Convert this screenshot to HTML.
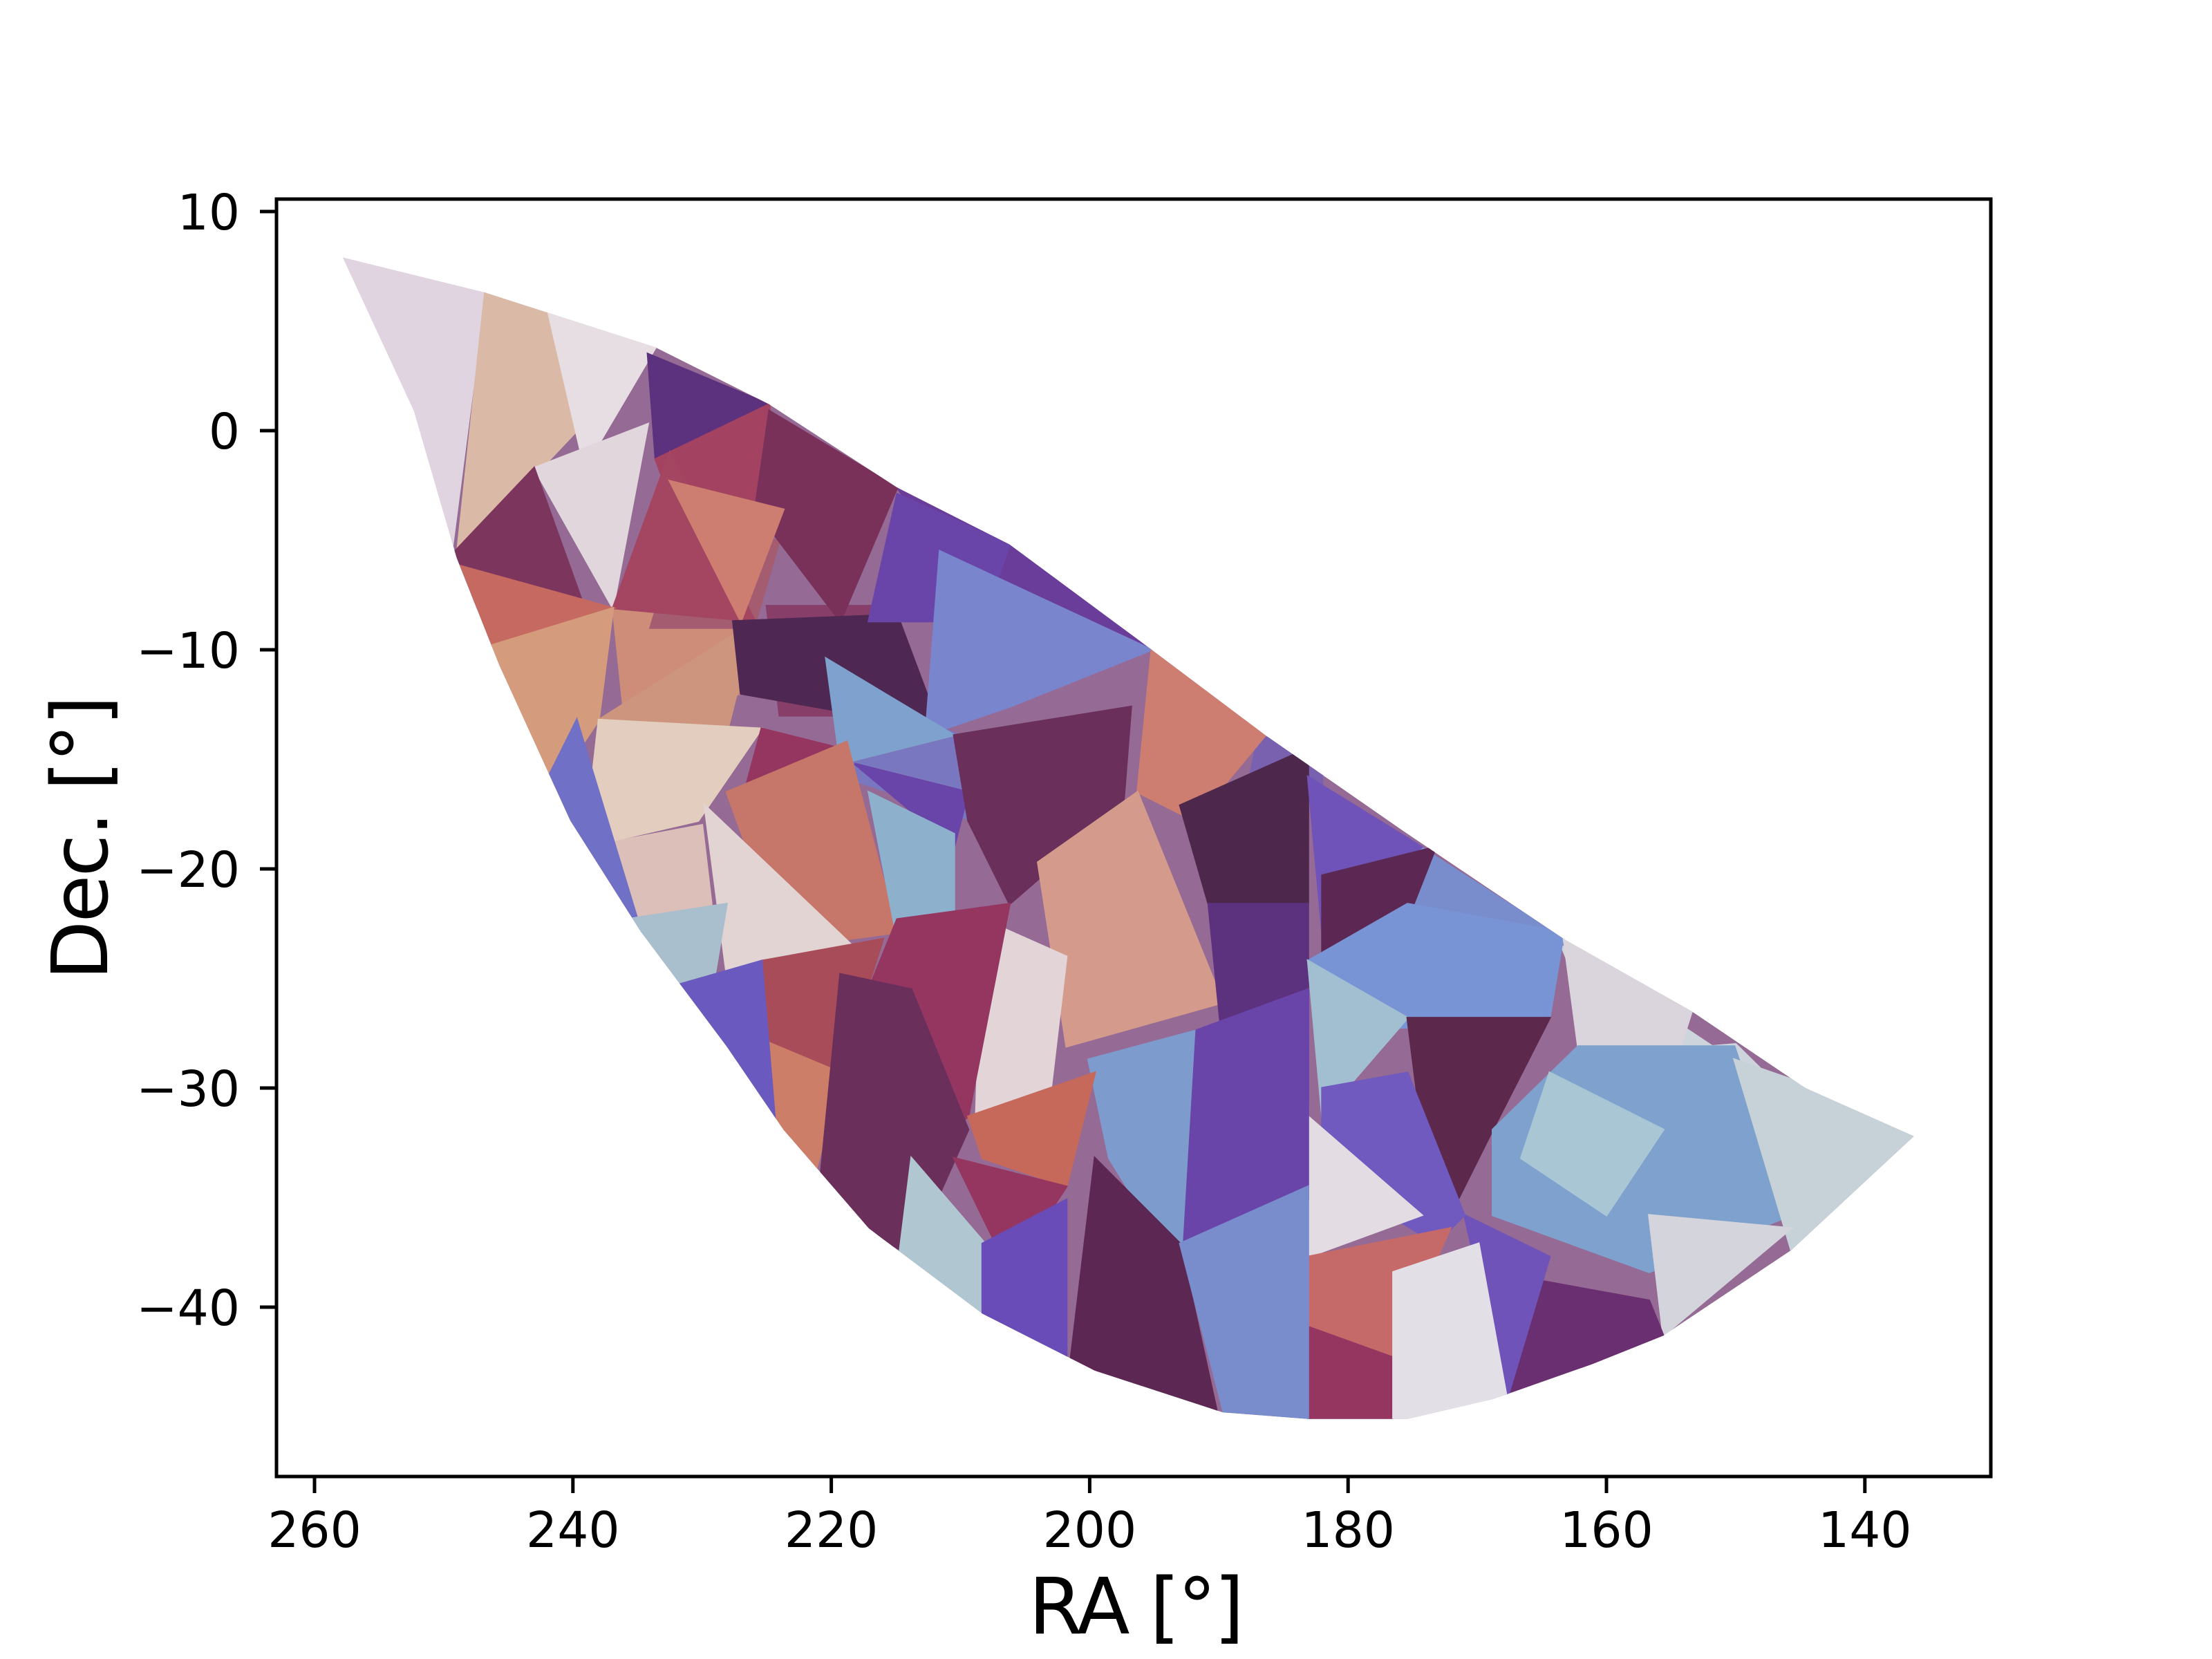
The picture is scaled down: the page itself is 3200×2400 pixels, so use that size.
<!DOCTYPE html>
<html><head><meta charset="utf-8"><style>
html,body{margin:0;padding:0;background:#fff;}
svg{display:block;}
text{font-family:"DejaVu Sans","Liberation Sans",sans-serif;fill:#000;}
</style></head><body>
<svg id="chart" width="3200" height="2400" viewBox="0 0 3200 2400" xmlns="http://www.w3.org/2000/svg">
<defs><clipPath id="wedgeClip"><polygon id="wedgeClipPoly"/></clipPath></defs>
<rect x="0" y="0" width="3200" height="2400" fill="#fff"/>
<g id="plot"></g>
<g id="axes"></g>
</svg>
<script>
// ---- data ----
const xTicks = [260, 240, 220, 200, 180, 160, 140];
const yTicks = [10, 0, -10, -20, -30, -40];
const xLim = [263.6, 130.0];
const yLim = [10.57, -47.7];
// footprint boundary (RA, Dec)
const edgeRA  = [257.8,246.8,233.6,224.8,214.9,206.2,195.2,186.4,175.4,163.3,153.4,144.6,136.2,145.7,155.6,161.1,168.8,175.4,183.1,189.7,199.6,208.3,217.1,223.7,228.1,234.7,240.2,245.7,249.0,252.3];
const edgeDec = [7.9,6.3,3.8,1.2,-2.6,-5.2,-10.0,-13.9,-18.4,-23.2,-26.5,-30.0,-32.2,-37.4,-41.3,-42.6,-44.2,-45.1,-45.1,-44.8,-42.9,-40.3,-36.4,-31.9,-28.1,-22.9,-17.8,-10.7,-5.8,0.9];
// patch colours
const patchColors = ["#5a2890","#c8806a","#d8b8b0","#6a68b8","#6a80c8","#c8d0d8","#7a2a5a","#9a4a60","#6a50a8",
"#dcd0dc","#d6b29c","#e4dbe0","#ddd2d8","#6e1f4a","#4a1a70","#9a2e50","#6a1a48","#9a3050","#c05a50","#d0906f","#c98a70","#c87060","#3a1040","#5a30a0","#6a78c8","#7098c8","#e0c8b8","#6060c0","#8a2050","#c06858","#e0d0d0","#5a30a0","#80a8c8","#5a1848","#c87060","#d09080","#e0d0d4","#3a1038","#6040b0","#4a1040","#4a1a70","#6a88d0","#98b8cc","#d6d0d8","#4a1038","#7098c8","#a0c0d0","#c0ccd4","#d0d0d8","#5a1860","#6040b0","#6048b8","#e0d8e0","#c05a58","#8a2050","#e0dce4","#5a30a0","#7090c8","#8a2050","#a03848","#c87058","#5a1848","#c05848","#8a2050","#a8c0cc","#5a38b0","#4a1040","#6a80c8","#a0b8c8","#5a48b8"];
const patchRA = [
[214.9,206.2,195.2,208.3],[236.9,225.9,227,236],[239,230,229,235.8],[219,210,209,218],[176,163.3,170,176],[163.5,145.7,150,160],[225,214.9,216,224],[232,224,226,234],[187,182,182,188],
[260,246.8,249.6,252],[246.8,233.6,249.0],[241.9,233.6,239.1],[243,234.2,236.9],[249.6,243,239.1,246.8],
[234.2,224.8,233.6],[233.6,224.8,224.3,231.4],[224.8,214.9,219.3,225.9],[236.9,232.5,225.9],[251,236.9,247.4],
[247.4,236.9,238,242.4],[238,225.9,228.7],[232.5,223.7,227],[227.6,214.9,211.6,227],[214.9,206.2,208.3,217.1],
[211.6,195.2,206.2,212.7],[220.4,210.5,219.3],[238,225.4,230.3,239.1],[239.7,234.7,239.1,243],[225.4,219.3,227],
[228.1,218.8,214.9,223.7],[229.8,218.2,228.1],[218.2,209.4,210.5],[217.1,210.5,210.5,214.9],[210.5,196.8,197.4,206.2,209.4],
[195.2,186.4,191.9,196.3],[204,196.3,189.7,201.8],[208.3,201.8,203,208.8],[193,183.1,183.1,190.8],[183.1,174.3,182],
[182,173.2,175.4,182],[190.8,183.1,183.1,189.7],[183.1,175.4,163.3,164.4,179.8],[183.1,175.4,182],[163.3,153.4,155.6,162.2],
[175.4,164.4,168.8,173.2],[162.2,150.1,145.7,156.7,168.8,168.8],[164.4,155.6,160,166.6],[150.1,134,145.7],[156.7,145.7,155.6],
[168.8,156.7,155.6,167.7],[171,164.4,167.7],[182,175.4,171,173.2,182],[183.1,174.3,183.1],[183.1,172.1,176.5,183.1],
[183.1,176.5,176.5,183.1],[176.5,169.9,167.7,176.5],[191.9,183.1,183.1,193],[200.1,191.9,193,198.5],[214.9,206.2,209.4,213.8,217.1],
[225.4,216,219.3,224.8],[227,219.3,221.5,224.8],[219.3,213.8,209.4,213.8,221],[209.4,199.6,201.8,208.3],[210.5,201.8,206.2],
[213.8,206.2,208.3,214.9],[208.3,201.8,201.8,208.3],[199.6,193,189.7,201.8],[193,183.1,183.1,189.1],[235.8,228.1,229.2,233.6],
[233.1,225.4,224.3,229.2]];
const patchDec = [
[-2.6,-5.2,-10,-8.1],[-8.1,-8.7,-12,-13.2],[-19,-18,-23,-22.3],[-12,-13.9,-17.8,-16],[-18.4,-23.2,-23,-22],[-23.5,-30.5,-28,-28.5],[-8,-8,-13,-13],[-5,-5,-9,-9],[-14,-14,-17,-17],
[10,6.3,-6.5,-2],[6.3,3.8,-5.8],[5.4,3.8,-1.7],[-1.7,0.3,-8.1],[-5.8,-1.7,-8.1,-8.7],
[3.5,1.2,-1.3],[-1.3,1.2,-3.6,-4.8],[0.9,-2.6,-8.7,-3.6],[-8.1,-1.0,-8.7],[-5.8,-8.1,-10],
[-10,-8.1,-13.2,-17.1],[-13.2,-8.7,-15.2],[-2.3,-3.6,-8.7],[-8.7,-8.4,-13.6,-12],[-2.9,-5.2,-8.7,-8.7],
[-5.5,-10,-12.6,-13.9],[-10.4,-13.9,-15.2],[-13.2,-13.6,-17.8,-19],[-13.2,-22.9,-19,-17.1],[-13.6,-14.5,-17.1],
[-16.5,-14.2,-22.9,-23.6],[-17.1,-23.6,-24.8],[-15.2,-16.5,-19],[-16.5,-18.4,-22.9,-23.2],[-13.9,-12.6,-17.1,-21.6,-17.8],
[-10,-13.9,-17.8,-16.5],[-19.7,-16.5,-26.1,-28.1],[-22.3,-24,-30,-31.3],[-17.1,-14.5,-21.6,-21.6],[-15.8,-19,-22.9],
[-20.3,-19,-22.3,-24.2],[-21.6,-21.6,-30.6,-28.1],[-24.2,-21.6,-22.9,-26.8,-27.4],[-24.2,-26.8,-31.3],[-23.2,-26.5,-30.6,-28.1],
[-26.8,-26.8,-31.9,-37.1],[-28.1,-28.1,-35.8,-38.4,-35.8,-31.9],[-29.3,-31.9,-35.8,-33.2],[-28.7,-32,-37.4],[-35.8,-36.4,-41.3],
[-38.4,-39.7,-41.3,-44.2],[-35.8,-37.7,-44.2],[-30,-29.3,-35.8,-37.1,-33.9],[-31.3,-35.8,-37.7],[-37.7,-36.4,-42.3,-40.9],
[-40.9,-42.3,-46,-46],[-38.4,-37.1,-44.2,-46],[-27.4,-25.5,-35.1,-38.4],[-28.7,-27.4,-38.4,-33.2],[-22.3,-21.6,-31.3,-33.2,-25.5],
[-24.2,-23.2,-29.3,-30.6],[-27.4,-29.3,-34.5,-31.9],[-24.8,-25.5,-31.9,-37.7,-35.1],[-31.3,-29.3,-34.5,-33.2],[-33.2,-34.5,-38.4],
[-33.2,-38.4,-40.9,-38.4],[-37.1,-35.1,-44,-42],[-33.2,-37.1,-46,-44],[-37.1,-34.5,-46,-46],[-22.3,-21.6,-25.5,-25.5],
[-25.5,-24.2,-31.9,-30]];

// ---- axis functions ----
const AX = {left:400, right:2880, top:288, bottom:2136};
const X0 = 455, PX_PER_DEG = 18.69; // 260 deg at x=455
const Y0 = 623, PX_PER_DEC = 31.7;  // 0 deg at y=623
function xs(ra){ return X0 + (260 - ra) * PX_PER_DEG; }
function ys(dec){ return Y0 - dec * PX_PER_DEC; }

const NS = "http://www.w3.org/2000/svg";
function mk(tag, attrs){ const e = document.createElementNS(NS, tag); for (const k in attrs) e.setAttribute(k, attrs[k]); return e; }

const plot = document.getElementById('plot');
const axes = document.getElementById('axes');

const clipPts = edgeRA.map((r,i)=> xs(r).toFixed(1)+','+ys(edgeDec[i]).toFixed(1)).join(' ');
document.getElementById('wedgeClipPoly').setAttribute('points', clipPts);

const g = mk('g', {'clip-path':'url(#wedgeClip)'});


plot.appendChild(g);

const base = mk('polygon', {points: clipPts, fill: '#8a5a88'});


g.appendChild(base);

patchColors.forEach((c, i) => {
  const pts = patchRA[i].map((r,j)=> xs(r).toFixed(1)+','+ys(patchDec[i][j]).toFixed(1)).join(' ');
  const p = mk('polygon', {points: pts, fill: c, stroke: c, 'stroke-width': 3});
  
  
  g.appendChild(p);
});
const veil = mk('polygon', {points: clipPts, fill: '#ffffff', 'fill-opacity': 0.1});


g.appendChild(veil);

const frame = mk('rect', {x: AX.left, y: AX.top, width: AX.right-AX.left, height: AX.bottom-AX.top, fill: 'none', stroke: '#000', 'stroke-width': 5});


axes.appendChild(frame);

xTicks.forEach(t => {
  const x = xs(t);
  const l = mk('line', {x1: x, x2: x, y1: AX.bottom, y2: AX.bottom + 24, stroke: '#000', 'stroke-width': 5});
  
  
  axes.appendChild(l);
  const tx = mk('text', {x: x, y: 2238, 'font-size': 71, 'text-anchor': 'middle'});
  tx.textContent = String(t);
  
  
  axes.appendChild(tx);
});
yTicks.forEach(t => {
  const y = ys(t);
  const l = mk('line', {x1: AX.left - 24, x2: AX.left, y1: y, y2: y, stroke: '#000', 'stroke-width': 5});
  
  
  axes.appendChild(l);
  const tx = mk('text', {x: 347, y: y + 26, 'font-size': 71, 'text-anchor': 'end'});
  tx.textContent = t < 0 ? '\u2212' + Math.abs(t) : String(t);
  
  
  axes.appendChild(tx);
});
</script>
<script>
(function(){
  const svg = document.getElementById('chart');
  const NS = "http://www.w3.org/2000/svg";
  const xl = document.createElementNS(NS, 'text');
  xl.setAttribute('x', 1644); xl.setAttribute('y', 2363);
  xl.setAttribute('font-size', 112); xl.setAttribute('text-anchor', 'middle');
  xl.setAttribute('textLength', 312); xl.setAttribute('lengthAdjust', 'spacing');
  xl.textContent = 'RA [°]';
  
  
  svg.appendChild(xl);
  const yl = document.createElementNS(NS, 'text');
  yl.setAttribute('x', 0); yl.setAttribute('y', 0);
  yl.setAttribute('font-size', 112); yl.setAttribute('text-anchor', 'middle');
  yl.setAttribute('textLength', 412); yl.setAttribute('lengthAdjust', 'spacing');
  yl.setAttribute('transform', 'translate(155,1212) rotate(-90)');
  yl.textContent = 'Dec. [°]';
  
  
  svg.appendChild(yl);
})();
</script>
</body></html>
